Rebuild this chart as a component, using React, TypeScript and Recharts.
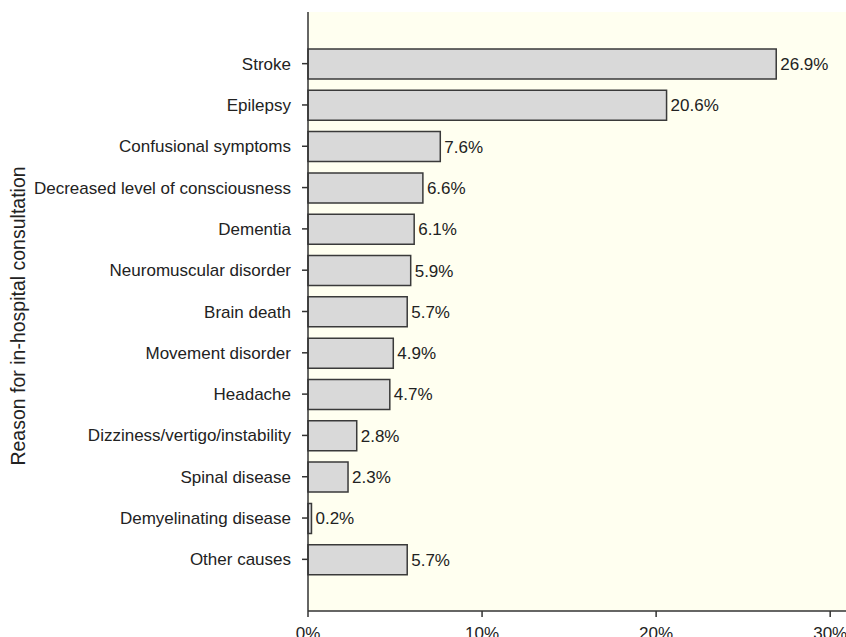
import { BarChart, Bar, XAxis, YAxis, CartesianGrid, LabelList } from "recharts";

const reasons = [
  "Stroke",
  "Epilepsy",
  "Confusional symptoms",
  "Decreased level of consciousness",
  "Dementia",
  "Neuromuscular disorder",
  "Brain death",
  "Movement disorder",
  "Headache",
  "Dizziness/vertigo/instability",
  "Spinal disease",
  "Demyelinating disease",
  "Other causes",
];
const percents = [26.9, 20.6, 7.6, 6.6, 6.1, 5.9, 5.7, 4.9, 4.7, 2.8, 2.3, 0.2, 5.7];
const xTicks = [0, 10, 20, 30];

const data = reasons.map((reason, i) => ({ reason, pct: percents[i] }));

const FONT = "'Liberation Sans', Arial, Helvetica, sans-serif";
const INK = "#222";

function YLabel() {
  return (
    <text
      x={18}
      y={316}
      transform="rotate(-90, 18, 316)"
      textAnchor="middle"
      dominantBaseline="central"
      fontFamily={FONT}
      fontSize={19.5}
      fill={INK}
    >
      Reason for in-hospital consultation
    </text>
  );
}

export default function App() {
  return (
    <div
      style={{
        position: "absolute",
        left: 0,
        top: 0,
        width: 846,
        height: 637,
        overflow: "hidden",
        background: "#fff",
      }}
    >
      <BarChart
        width={866}
        height={650}
        data={data}
        layout="vertical"
        margin={{ top: 12, right: 1, bottom: 0, left: 0 }}
      >
        <CartesianGrid fill="#fffff0" horizontal={false} vertical={false} />
        <XAxis
          type="number"
          dataKey="pct"
          domain={[0, 32]}
          ticks={xTicks}
          tickFormatter={(v) => `${v}%`}
          height={39}
          tickSize={6}
          tickMargin={10}
          stroke="#333"
          strokeWidth={1.5}
          tick={{ fill: INK, fontSize: 17, fontFamily: FONT }}
        />
        <XAxis
          xAxisId="top"
          type="number"
          orientation="top"
          domain={[0, 32]}
          height={0}
          tick={false}
          tickLine={false}
          stroke="#333"
          strokeWidth={1.5}
        />
        <YAxis
          type="category"
          dataKey="reason"
          width={308}
          padding={{ top: 31, bottom: 31 }}
          tickSize={6}
          tickMargin={11}
          stroke="#333"
          strokeWidth={1.5}
          interval={0}
          tick={{ fill: INK, fontSize: 17, fontFamily: FONT }}
          label={<YLabel />}
        />
        <Bar
          dataKey="pct"
          barSize={30}
          fill="#d9d9d9"
          stroke="#3a3a3a"
          strokeWidth={1.5}
          isAnimationActive={false}
        >
          <LabelList
            dataKey="pct"
            position="right"
            offset={4}
            formatter={(v: number) => `${v.toFixed(1)}%`}
            fill={INK}
            fontSize={17}
            fontFamily={FONT}
          />
        </Bar>
      </BarChart>
    </div>
  );
}
